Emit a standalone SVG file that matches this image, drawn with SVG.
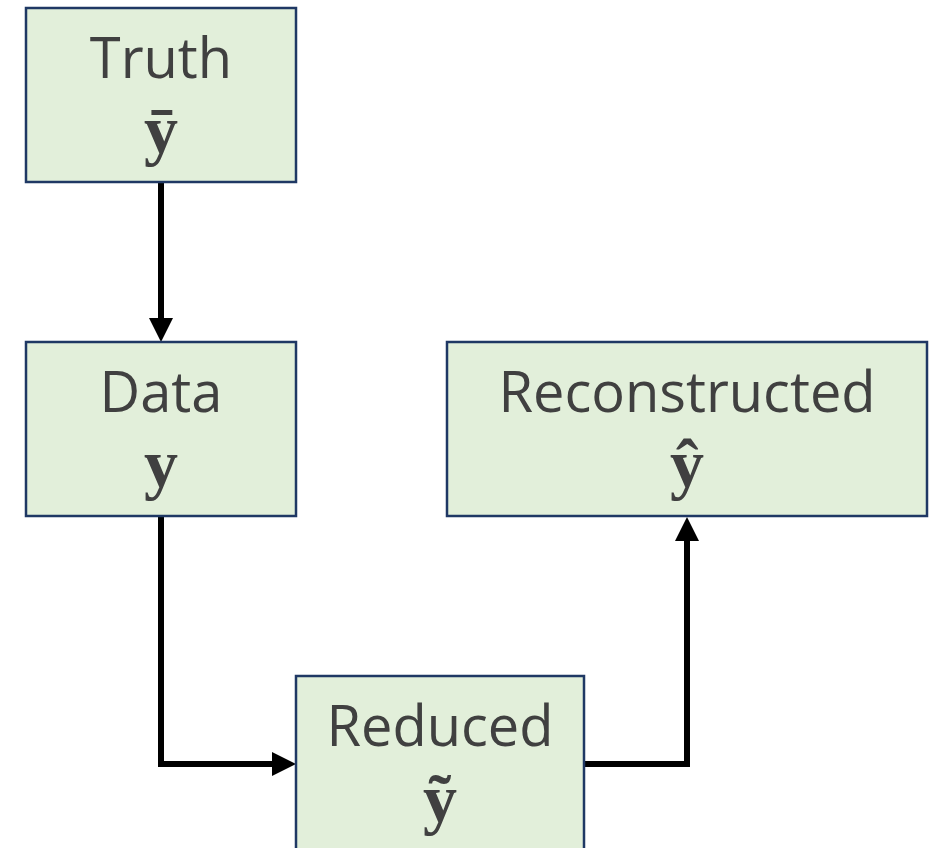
<svg xmlns="http://www.w3.org/2000/svg" width="935" height="848" viewBox="0 0 935 848">
<defs>
<style>
.box{fill:#e2efda;stroke:#1f3864;stroke-width:2.5}
.lbl{font-family:"Open Sans","Noto Sans",sans-serif;font-size:56px;fill:#404040;text-anchor:middle}
.sym{font-family:"Liberation Serif",serif;font-weight:bold;font-size:68px;fill:#404040;text-anchor:middle}
.conn{fill:none;stroke:#000;stroke-width:6}
</style>
<marker id="ah" markerWidth="4" markerHeight="4" refX="0" refY="2" orient="auto" markerUnits="strokeWidth" overflow="visible">
<path d="M0,0 L4,2 L0,4 Z" fill="#000"/>
</marker>
</defs>
<rect width="935" height="848" fill="#fff"/>
<g id="connectors">
<path class="conn" d="M161,182 V318" marker-end="url(#ah)"/>
<path class="conn" d="M161,516 V764 H272" marker-end="url(#ah)"/>
<path class="conn" d="M584,764 H687 V541" marker-end="url(#ah)"/>
</g>
<g id="truth">
<rect class="box" x="26" y="8" width="270" height="174"/>
<text class="lbl" x="161" y="78">Truth</text>
<text class="sym" x="161" y="153">ȳ</text>
</g>
<g id="data">
<rect class="box" x="26" y="342" width="270" height="174"/>
<text class="lbl" x="161" y="412">Data</text>
<text class="sym" x="161" y="487">y</text>
</g>
<g id="reconstructed">
<rect class="box" x="447" y="342" width="480" height="174"/>
<text class="lbl" x="687" y="412">Reconstructed</text>
<text class="sym" x="687" y="487">ŷ</text>
</g>
<g id="reduced">
<rect class="box" x="296" y="676" width="288" height="180"/>
<text class="lbl" x="440" y="746">Reduced</text>
<text class="sym" x="440" y="822">ỹ</text>
</g>
</svg>
